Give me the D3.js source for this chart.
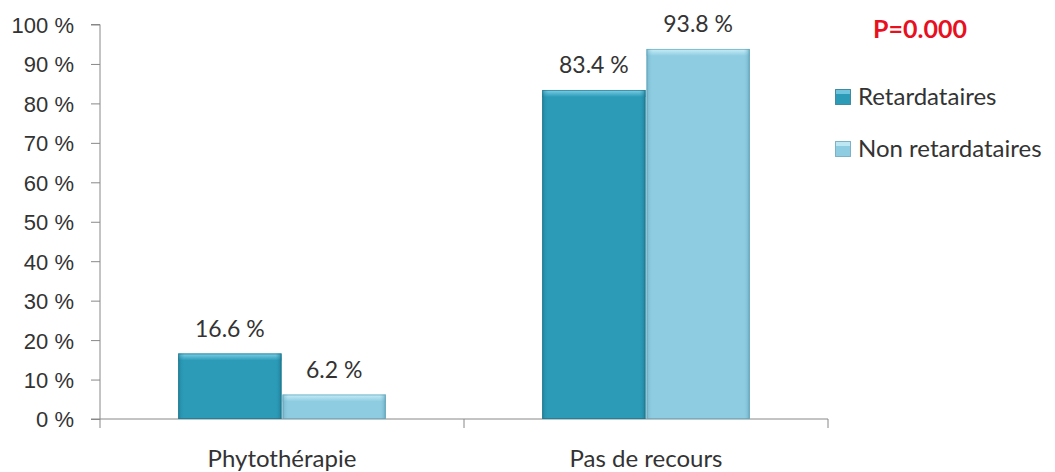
<!DOCTYPE html>
<html>
<head>
<meta charset="utf-8">
<script src="https://d3js.org/d3.v7.min.js"></script>
<style>
  html, body { margin: 0; padding: 0; background: #fff; }
  svg { display: block; font-family: Lato, "Open Sans", sans-serif; }
</style>
</head>
<body>
<svg id="chart" width="1055" height="472"></svg>
<script>
// Recours à la phytothérapie selon le statut vaccinal
const categories = ["Phytothérapie", "Pas de recours"];
const series = ["Retardataires", "Non retardataires"];
const retardataires = [16.6, 83.4];
const nonRetardataires = [6.2, 93.8];
const yTicks = [0, 10, 20, 30, 40, 50, 60, 70, 80, 90, 100];
const pValue = "P=0.000";

const values = [retardataires, nonRetardataires];
const colors = {
  "Retardataires": { base: "#2b9bb8", light: "#7fd0e6", dark: "#1c6f86" },
  "Non retardataires": { base: "#8dcce1", light: "#c9eef8", dark: "#5c9db3" }
};

const svg = d3.select("#chart");
const plotLeft = 100, plotRight = 828, plotTop = 24.5, plotBottom = 419;

const x = d3.scaleBand().domain(categories).range([plotLeft, plotRight]).paddingInner(0).paddingOuter(0);
const xs = d3.scaleBand().domain(series).range([0, x.bandwidth()]).paddingInner(0.01).paddingOuter(0.75);
const y = d3.scaleLinear().domain([0, 100]).range([plotBottom, plotTop]);

// Bevel gradients for the bars
const defs = svg.append("defs");
series.forEach((s, i) => {
  const c = colors[s];
  const gv = defs.append("linearGradient").attr("id", "gv" + i).attr("x1", 0).attr("y1", 0).attr("x2", 0).attr("y2", 1);
  gv.append("stop").attr("offset", 0).attr("stop-color", c.light);
  gv.append("stop").attr("offset", 1).attr("stop-color", c.base);
  const gh = defs.append("linearGradient").attr("id", "gh" + i).attr("x1", 0).attr("y1", 0).attr("x2", 1).attr("y2", 0);
  gh.append("stop").attr("offset", 0).attr("stop-color", c.dark).attr("stop-opacity", 0.55);
  gh.append("stop").attr("offset", 0.06).attr("stop-color", c.base).attr("stop-opacity", 0);
  gh.append("stop").attr("offset", 0.94).attr("stop-color", c.base).attr("stop-opacity", 0);
  gh.append("stop").attr("offset", 1).attr("stop-color", c.dark).attr("stop-opacity", 0.7);
});

// Y axis
const yAxis = d3.axisLeft(y).tickValues(yTicks).tickSize(9).tickFormat(d => d + " %");
const gy = svg.append("g").attr("transform", `translate(${plotLeft},0)`).call(yAxis);
gy.select(".domain").attr("stroke", "#888").attr("d", `M-9,${plotTop}H0V${plotBottom}H-9`);
gy.selectAll(".tick line").attr("stroke", "#888");
gy.selectAll(".tick text").attr("fill", "#333").attr("font-size", 22).attr("x", -26).attr("dy", "0.36em");

// X axis baseline and category separators
const gx = svg.append("g");
gx.append("line").attr("x1", plotLeft).attr("x2", plotRight).attr("y1", plotBottom).attr("y2", plotBottom).attr("stroke", "#888");
[plotLeft, x("Pas de recours"), plotRight].forEach(px => {
  gx.append("line").attr("x1", px).attr("x2", px).attr("y1", plotBottom).attr("y2", plotBottom + 9).attr("stroke", "#888");
});
categories.forEach(c => {
  gx.append("text").attr("x", x(c) + x.bandwidth() / 2).attr("y", 467)
    .attr("text-anchor", "middle").attr("font-size", 24).attr("fill", "#333").text(c);
});

// Bars
categories.forEach((c, ci) => {
  series.forEach((s, si) => {
    const v = values[si][ci];
    const bx = x(c) + xs(s), bw = xs.bandwidth();
    const by = y(v), bh = y(0) - y(v);
    const g = svg.append("g");
    g.append("rect").attr("x", bx).attr("y", by).attr("width", bw).attr("height", bh).attr("fill", colors[s].base);
    g.append("rect").attr("x", bx).attr("y", by).attr("width", bw).attr("height", Math.min(7, bh)).attr("fill", `url(#gv${si})`);
    g.append("rect").attr("x", bx).attr("y", by).attr("width", bw).attr("height", bh).attr("fill", `url(#gh${si})`);
    g.append("rect").attr("x", bx + 0.5).attr("y", by + 0.5).attr("width", bw - 1).attr("height", bh - 1)
      .attr("fill", "none").attr("stroke", colors[s].dark).attr("stroke-opacity", 0.6);
    svg.append("text").attr("x", bx + bw / 2).attr("y", by - 17)
      .attr("text-anchor", "middle").attr("font-size", 23).attr("fill", "#333")
      .text(d3.format(".1f")(v) + " %");
  });
});

// Legend
const legend = svg.append("g");
series.forEach((s, i) => {
  const base = 105 + i * 52;
  legend.append("rect").attr("x", 835.5).attr("y", base - 15.5).attr("width", 15).attr("height", 15)
    .attr("fill", colors[s].base).attr("stroke", colors[s].dark).attr("stroke-opacity", 0.7);
  legend.append("rect").attr("x", 836).attr("y", base - 15).attr("width", 14).attr("height", 4).attr("fill", colors[s].light).attr("opacity", 0.8);
  legend.append("text").attr("x", 858).attr("y", base)
    .attr("font-size", 24).attr("fill", "#333").text(s);
});

// Significance annotation
svg.append("text").attr("x", 873).attr("y", 38)
  .attr("font-size", 25).attr("font-weight", "bold").attr("fill", "#e8101e").text(pValue);
</script>
</body>
</html>
